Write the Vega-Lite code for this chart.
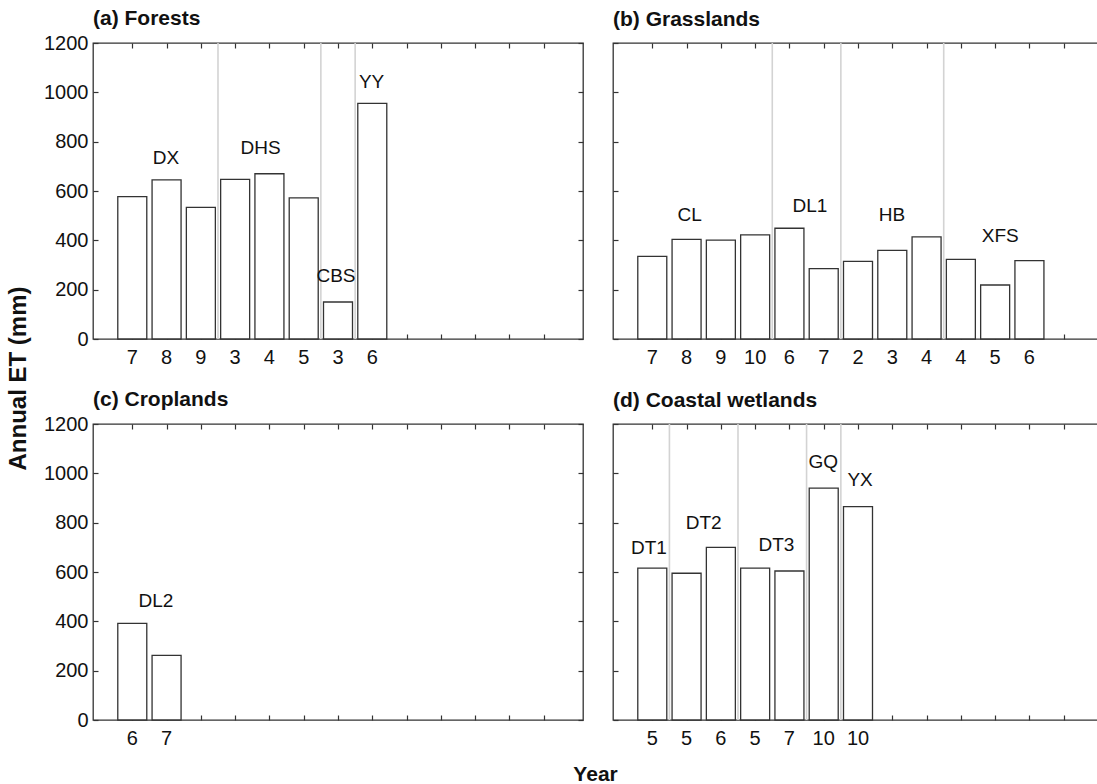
{
  "$schema": "https://vega.github.io/schema/vega-lite/v6.json",
  "background": "white",
  "padding": {"left": 6, "top": 7, "right": 0, "bottom": 0},
  "datasets": {
    "bars": [
      {"panel": "a", "site": "DX", "pos": 1, "year": "7", "et": 577},
      {"panel": "a", "site": "DX", "pos": 2, "year": "8", "et": 645},
      {"panel": "a", "site": "DX", "pos": 3, "year": "9", "et": 534},
      {"panel": "a", "site": "DHS", "pos": 4, "year": "3", "et": 647},
      {"panel": "a", "site": "DHS", "pos": 5, "year": "4", "et": 670},
      {"panel": "a", "site": "DHS", "pos": 6, "year": "5", "et": 572},
      {"panel": "a", "site": "CBS", "pos": 7, "year": "3", "et": 150},
      {"panel": "a", "site": "YY", "pos": 8, "year": "6", "et": 955},
      {"panel": "b", "site": "CL", "pos": 1, "year": "7", "et": 335},
      {"panel": "b", "site": "CL", "pos": 2, "year": "8", "et": 404},
      {"panel": "b", "site": "CL", "pos": 3, "year": "9", "et": 401},
      {"panel": "b", "site": "CL", "pos": 4, "year": "10", "et": 422},
      {"panel": "b", "site": "DL1", "pos": 5, "year": "6", "et": 449},
      {"panel": "b", "site": "DL1", "pos": 6, "year": "7", "et": 285},
      {"panel": "b", "site": "HB", "pos": 7, "year": "2", "et": 315},
      {"panel": "b", "site": "HB", "pos": 8, "year": "3", "et": 359},
      {"panel": "b", "site": "HB", "pos": 9, "year": "4", "et": 414},
      {"panel": "b", "site": "XFS", "pos": 10, "year": "4", "et": 323},
      {"panel": "b", "site": "XFS", "pos": 11, "year": "5", "et": 219},
      {"panel": "b", "site": "XFS", "pos": 12, "year": "6", "et": 318},
      {"panel": "c", "site": "DL2", "pos": 1, "year": "6", "et": 392},
      {"panel": "c", "site": "DL2", "pos": 2, "year": "7", "et": 262},
      {"panel": "d", "site": "DT1", "pos": 1, "year": "5", "et": 616},
      {"panel": "d", "site": "DT2", "pos": 2, "year": "5", "et": 595},
      {"panel": "d", "site": "DT2", "pos": 3, "year": "6", "et": 700},
      {"panel": "d", "site": "DT3", "pos": 4, "year": "5", "et": 616},
      {"panel": "d", "site": "DT3", "pos": 5, "year": "7", "et": 604},
      {"panel": "d", "site": "GQ", "pos": 6, "year": "10", "et": 940},
      {"panel": "d", "site": "YX", "pos": 7, "year": "10", "et": 865}
    ],
    "seps": [
      {"panel": "a", "sep": 3.5}, {"panel": "a", "sep": 6.5}, {"panel": "a", "sep": 7.5},
      {"panel": "b", "sep": 4.5}, {"panel": "b", "sep": 6.5}, {"panel": "b", "sep": 9.5},
      {"panel": "d", "sep": 1.5}, {"panel": "d", "sep": 3.5}, {"panel": "d", "sep": 5.5}, {"panel": "d", "sep": 6.5}
    ],
    "labels": [
      {"panel": "a", "site": "DX", "lx": 1.98, "ly": 733},
      {"panel": "a", "site": "DHS", "lx": 4.74, "ly": 774},
      {"panel": "a", "site": "CBS", "lx": 6.94, "ly": 254},
      {"panel": "a", "site": "YY", "lx": 7.98, "ly": 1040},
      {"panel": "b", "site": "CL", "lx": 2.09, "ly": 504},
      {"panel": "b", "site": "DL1", "lx": 5.6, "ly": 538},
      {"panel": "b", "site": "HB", "lx": 7.99, "ly": 504},
      {"panel": "b", "site": "XFS", "lx": 11.15, "ly": 419},
      {"panel": "c", "site": "DL2", "lx": 1.69, "ly": 481},
      {"panel": "d", "site": "DT1", "lx": 0.9, "ly": 697},
      {"panel": "d", "site": "DT2", "lx": 2.5, "ly": 799},
      {"panel": "d", "site": "DT3", "lx": 4.62, "ly": 708},
      {"panel": "d", "site": "GQ", "lx": 5.99, "ly": 1045},
      {"panel": "d", "site": "YX", "lx": 7.06, "ly": 972}
    ]
  },
  "title": {"text": "Year", "orient": "bottom", "anchor": "middle", "frame": "bounds", "fontSize": 21, "fontWeight": "bold", "font": "Liberation Sans", "color": "#111", "offset": 14, "dx": 40},
  "hconcat": [
    {
      "title": {"text": "Annual ET (mm)", "orient": "left", "anchor": "middle", "frame": "bounds", "fontSize": 24, "fontWeight": "bold", "font": "Liberation Sans", "color": "#111", "offset": 12},
      "vconcat": [
        {
          "spacing": 26,
          "hconcat": [
            {
              "width": 490, "height": 296,
              "title": {"text": "(a) Forests", "offset": 4},
              "layer": [
                {"data": {"name": "seps"}, "transform": [{"filter": "datum.panel === 'a'"}], "mark": {"type": "rule", "color": "#d3d3d3", "strokeWidth": 1.6}, "encoding": {"x": {"field": "sep", "type": "quantitative", "scale": {"domain": [0, 14], "nice": false, "zero": false}, "axis": null}}},
                {"data": {"name": "bars"}, "transform": [{"filter": "datum.panel === 'a'"}], "mark": {"type": "bar", "size": 29, "fill": "white", "stroke": "#333", "strokeWidth": 1.3},
                  "encoding": {
                    "x": {"field": "pos", "type": "quantitative", "scale": {"domain": [0, 14], "nice": false, "zero": false}, "axis": {"orient": "bottom", "values": [1,2,3,4,5,6,7,8,9,10,11,12,13], "labels": false}},
                    "y": {"field": "et", "type": "quantitative", "scale": {"domain": [0, 1200], "nice": false}, "axis": {"orient": "left", "values": [0,200,400,600,800,1000,1200], "format": "d"}}
                  }},
                {"data": {"name": "labels"}, "transform": [{"filter": "datum.panel === 'a'"}], "mark": {"type": "text", "fontSize": 19, "baseline": "middle"},
                  "encoding": {
                    "x": {"field": "lx", "type": "quantitative", "axis": {"orient": "top", "values": [1,2,3,4,5,6,7,8,9,10,11,12,13], "labels": false}},
                    "y": {"field": "ly", "type": "quantitative", "axis": {"orient": "right", "values": [0,200,400,600,800,1000,1200], "labels": false}},
                    "text": {"field": "site"}
                  }},
                {"data": {"name": "bars"}, "transform": [{"filter": "datum.panel === 'a'"}], "mark": {"type": "text", "fontSize": 20, "baseline": "alphabetic", "dy": 25},
                  "encoding": {"x": {"field": "pos", "type": "quantitative", "axis": null}, "y": {"datum": 0, "axis": null}, "text": {"field": "year"}}}
              ],
              "resolve": {"axis": {"x": "independent", "y": "independent"}}
            },
            {
              "width": 490, "height": 296,
              "title": {"text": "(b) Grasslands", "offset": 12},
              "layer": [
                {"data": {"name": "seps"}, "transform": [{"filter": "datum.panel === 'b'"}], "mark": {"type": "rule", "color": "#d3d3d3", "strokeWidth": 1.6}, "encoding": {"x": {"field": "sep", "type": "quantitative", "scale": {"domain": [0, 14], "nice": false, "zero": false}, "axis": null}}},
                {"data": {"name": "bars"}, "transform": [{"filter": "datum.panel === 'b'"}], "mark": {"type": "bar", "size": 29, "fill": "white", "stroke": "#333", "strokeWidth": 1.3},
                  "encoding": {
                    "x": {"field": "pos", "type": "quantitative", "scale": {"domain": [0, 14], "nice": false, "zero": false}, "axis": {"orient": "bottom", "values": [1,2,3,4,5,6,7,8,9,10,11,12,13], "labels": false}},
                    "y": {"field": "et", "type": "quantitative", "scale": {"domain": [0, 1200], "nice": false}, "axis": {"orient": "left", "values": [0,200,400,600,800,1000,1200], "labels": false}}
                  }},
                {"data": {"name": "labels"}, "transform": [{"filter": "datum.panel === 'b'"}], "mark": {"type": "text", "fontSize": 19, "baseline": "middle"},
                  "encoding": {
                    "x": {"field": "lx", "type": "quantitative", "axis": {"orient": "top", "values": [1,2,3,4,5,6,7,8,9,10,11,12,13], "labels": false}},
                    "y": {"field": "ly", "type": "quantitative", "axis": {"orient": "right", "values": [0,200,400,600,800,1000,1200], "labels": false}},
                    "text": {"field": "site"}
                  }},
                {"data": {"name": "bars"}, "transform": [{"filter": "datum.panel === 'b'"}], "mark": {"type": "text", "fontSize": 20, "baseline": "alphabetic", "dy": 25},
                  "encoding": {"x": {"field": "pos", "type": "quantitative", "axis": null}, "y": {"datum": 0, "axis": null}, "text": {"field": "year"}}}
              ],
              "resolve": {"axis": {"x": "independent", "y": "independent"}}
            }
          ]
        },
        {
          "spacing": 26,
          "hconcat": [
            {
              "width": 490, "height": 296,
              "title": {"text": "(c) Croplands", "offset": 4},
              "layer": [
                {"data": {"name": "bars"}, "transform": [{"filter": "datum.panel === 'c'"}], "mark": {"type": "bar", "size": 29, "fill": "white", "stroke": "#333", "strokeWidth": 1.3},
                  "encoding": {
                    "x": {"field": "pos", "type": "quantitative", "scale": {"domain": [0, 14], "nice": false, "zero": false}, "axis": {"orient": "bottom", "values": [1,2,3,4,5,6,7,8,9,10,11,12,13], "labels": false}},
                    "y": {"field": "et", "type": "quantitative", "scale": {"domain": [0, 1200], "nice": false}, "axis": {"orient": "left", "values": [0,200,400,600,800,1000,1200], "format": "d"}}
                  }},
                {"data": {"name": "labels"}, "transform": [{"filter": "datum.panel === 'c'"}], "mark": {"type": "text", "fontSize": 19, "baseline": "middle"},
                  "encoding": {
                    "x": {"field": "lx", "type": "quantitative", "axis": {"orient": "top", "values": [1,2,3,4,5,6,7,8,9,10,11,12,13], "labels": false}},
                    "y": {"field": "ly", "type": "quantitative", "axis": {"orient": "right", "values": [0,200,400,600,800,1000,1200], "labels": false}},
                    "text": {"field": "site"}
                  }},
                {"data": {"name": "bars"}, "transform": [{"filter": "datum.panel === 'c'"}], "mark": {"type": "text", "fontSize": 20, "baseline": "alphabetic", "dy": 25},
                  "encoding": {"x": {"field": "pos", "type": "quantitative", "axis": null}, "y": {"datum": 0, "axis": null}, "text": {"field": "year"}}}
              ],
              "resolve": {"axis": {"x": "independent", "y": "independent"}}
            },
            {
              "width": 490, "height": 296,
              "title": {"text": "(d) Coastal wetlands", "offset": 12},
              "layer": [
                {"data": {"name": "seps"}, "transform": [{"filter": "datum.panel === 'd'"}], "mark": {"type": "rule", "color": "#d3d3d3", "strokeWidth": 1.6}, "encoding": {"x": {"field": "sep", "type": "quantitative", "scale": {"domain": [0, 14], "nice": false, "zero": false}, "axis": null}}},
                {"data": {"name": "bars"}, "transform": [{"filter": "datum.panel === 'd'"}], "mark": {"type": "bar", "size": 29, "fill": "white", "stroke": "#333", "strokeWidth": 1.3},
                  "encoding": {
                    "x": {"field": "pos", "type": "quantitative", "scale": {"domain": [0, 14], "nice": false, "zero": false}, "axis": {"orient": "bottom", "values": [1,2,3,4,5,6,7,8,9,10,11,12,13], "labels": false}},
                    "y": {"field": "et", "type": "quantitative", "scale": {"domain": [0, 1200], "nice": false}, "axis": {"orient": "left", "values": [0,200,400,600,800,1000,1200], "labels": false}}
                  }},
                {"data": {"name": "labels"}, "transform": [{"filter": "datum.panel === 'd'"}], "mark": {"type": "text", "fontSize": 19, "baseline": "middle"},
                  "encoding": {
                    "x": {"field": "lx", "type": "quantitative", "axis": {"orient": "top", "values": [1,2,3,4,5,6,7,8,9,10,11,12,13], "labels": false}},
                    "y": {"field": "ly", "type": "quantitative", "axis": {"orient": "right", "values": [0,200,400,600,800,1000,1200], "labels": false}},
                    "text": {"field": "site"}
                  }},
                {"data": {"name": "bars"}, "transform": [{"filter": "datum.panel === 'd'"}], "mark": {"type": "text", "fontSize": 20, "baseline": "alphabetic", "dy": 25},
                  "encoding": {"x": {"field": "pos", "type": "quantitative", "axis": null}, "y": {"datum": 0, "axis": null}, "text": {"field": "year"}}}
              ],
              "resolve": {"axis": {"x": "independent", "y": "independent"}}
            }
          ]
        }
      ],
      "spacing": 19
    }
  ],
  "config": {
    "font": "Liberation Sans",
    "view": {"stroke": "#333", "strokeWidth": 1.3},
    "text": {"font": "Liberation Sans", "color": "#111"},
    "axis": {"domain": false, "grid": false, "title": null, "tickSize": -5, "tickColor": "#333", "tickWidth": 1.2, "labelFont": "Liberation Sans", "labelFontSize": 20, "labelColor": "#111", "labelPadding": 10},
    "title": {"font": "Liberation Sans", "fontSize": 21, "fontWeight": "bold", "color": "#111", "anchor": "start", "frame": "group"}
  }
}
